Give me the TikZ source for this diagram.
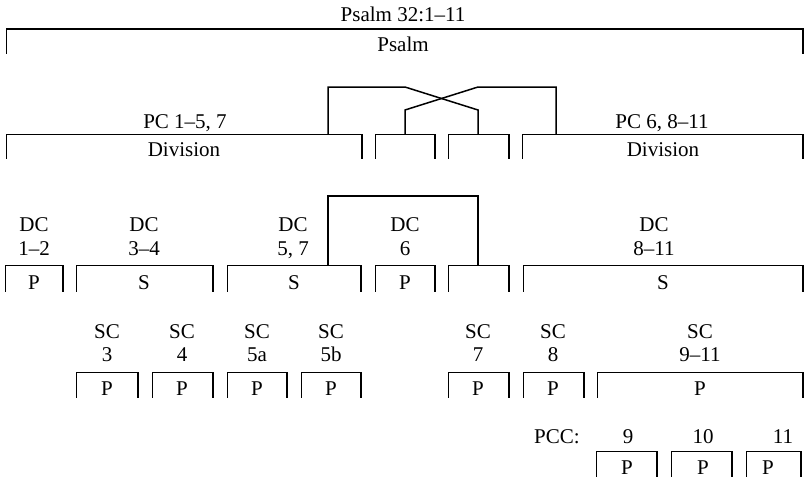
\documentclass[tikz,border=0pt]{standalone}
\usepackage{fontspec}
\setmainfont{Liberation Serif}
\begin{document}
\begin{tikzpicture}[x=1pt,y=-1pt,line width=1.5pt,
  lbl/.style={inner sep=0pt,anchor=base,font=\fontsize{21}{24}\selectfont},
  brkbox/.style={inner sep=0pt,draw=none}]
\useasboundingbox (0,0) rectangle (806,479);

% bracket: name, left x, right x, top y, bottom y
\newcommand\brk[5]{%
  \node[brkbox,minimum width={#3-#2},minimum height={#5-#4}] (#1) at ({(#2+#3)/2},{(#4+#5)/2}) {};
  \draw (#1.south west) |- (#1.north east) -- (#1.south east);}

% whole psalm
\node[lbl] (ttl) at (403,21) {Psalm 32:1--11};
\brk{psalm}{7}{802}{29.5}{53}
\node[lbl] (psalmT) at (403,51.5) {Psalm};

% divisions
\brk{divL}{7}{361}{135}{158}
\brk{boxA}{376}{434}{135}{158}
\brk{boxB}{449}{508}{135}{158}
\brk{divR}{523}{802}{135}{158}
\node[lbl] (pcL) at (185,128) {PC 1--5, 7};
\node[lbl] (dvL) at (184,156.5) {Division};
\node[lbl] (pcR) at (662,128) {PC 6, 8--11};
\node[lbl] (dvR) at (663,156.5) {Division};

% crossing links between the divisions
\coordinate (a1) at (328,87);
\coordinate (a2) at (405,87);
\coordinate (a3) at (478,110);
\coordinate (b1) at (556,87);
\coordinate (b2) at (478,87);
\coordinate (b3) at (405,110);
\draw (divL.north -| a1) -- (a1) -- (a2) -- (a3) -- (a3 |- boxB.north);
\draw (divR.north -| b1) -- (b1) -- (b2) -- (b3) -- (b3 |- boxA.north);

% division clusters
\brk{dcA}{6}{62}{266}{291}
\brk{dcB}{77}{212}{266}{291}
\brk{dcC}{228}{360}{266}{291}
\brk{dcD}{376}{434}{266}{291}
\brk{dcE}{449}{508}{266}{291}
\brk{dcF}{524}{802}{266}{291}
\node[lbl] (dcA1) at (34,231) {DC};   \node[lbl] (dcA2) at (34,255) {1--2};
\node[lbl] (dcB1) at (144,231) {DC};  \node[lbl] (dcB2) at (144,255) {3--4};
\node[lbl] (dcC1) at (293,231) {DC};  \node[lbl] (dcC2) at (293,255) {5, 7};
\node[lbl] (dcD1) at (405,231) {DC};  \node[lbl] (dcD2) at (405,255) {6};
\node[lbl] (dcF1) at (654,231) {DC};  \node[lbl] (dcF2) at (654,255) {8--11};
\node[lbl] (dcAt) at (34,289) {P};
\node[lbl] (dcBt) at (144,289) {S};
\node[lbl] (dcCt) at (294,289) {S};
\node[lbl] (dcDt) at (405,289) {P};
\node[lbl] (dcFt) at (663,289) {S};

% link from DC 5, 7 to the empty cluster
\coordinate (c1) at (328,196);
\coordinate (c2) at (478,196);
\draw (dcC.north -| c1) -- (c1) -- (c2) -- (dcE.north -| c2);

% sub-clusters
\brk{scA}{77}{137}{373}{397}
\brk{scB}{153}{212}{373}{397}
\brk{scC}{228}{286}{373}{397}
\brk{scD}{302}{360}{373}{397}
\brk{scE}{449}{508}{373}{397}
\brk{scF}{524}{583}{373}{397}
\brk{scG}{598}{802}{373}{397}
\node[lbl] (scA1) at (107,338) {SC}; \node[lbl] (scA2) at (107,361) {3};
\node[lbl] (scB1) at (182,338) {SC}; \node[lbl] (scB2) at (182,361) {4};
\node[lbl] (scC1) at (257,338) {SC}; \node[lbl] (scC2) at (257,361) {5a};
\node[lbl] (scD1) at (331,338) {SC}; \node[lbl] (scD2) at (331,361) {5b};
\node[lbl] (scE1) at (478,338) {SC}; \node[lbl] (scE2) at (478,361) {7};
\node[lbl] (scF1) at (553,338) {SC}; \node[lbl] (scF2) at (553,361) {8};
\node[lbl] (scG1) at (700,338) {SC}; \node[lbl] (scG2) at (700,361) {9--11};
\node[lbl] (scAt) at (107,395) {P};
\node[lbl] (scBt) at (182,395) {P};
\node[lbl] (scCt) at (257,395) {P};
\node[lbl] (scDt) at (331,395) {P};
\node[lbl] (scEt) at (478,395) {P};
\node[lbl] (scFt) at (553,395) {P};
\node[lbl] (scGt) at (700,395) {P};

% paragraph-cluster components
\brk{pA}{597}{656}{452}{476}
\brk{pB}{672}{731}{452}{476}
\brk{pC}{747}{800}{452}{476}
\node[lbl] (pcc) at (557,443) {PCC:};
\node[lbl] (pA1) at (628,443) {9};
\node[lbl] (pB1) at (703,443) {10};
\node[lbl] (pC1) at (783,443) {11};
\node[lbl] (pAt) at (627,474) {P};
\node[lbl] (pBt) at (703,474) {P};
\node[lbl] (pCt) at (768,474) {P};
\end{tikzpicture}
\end{document}
